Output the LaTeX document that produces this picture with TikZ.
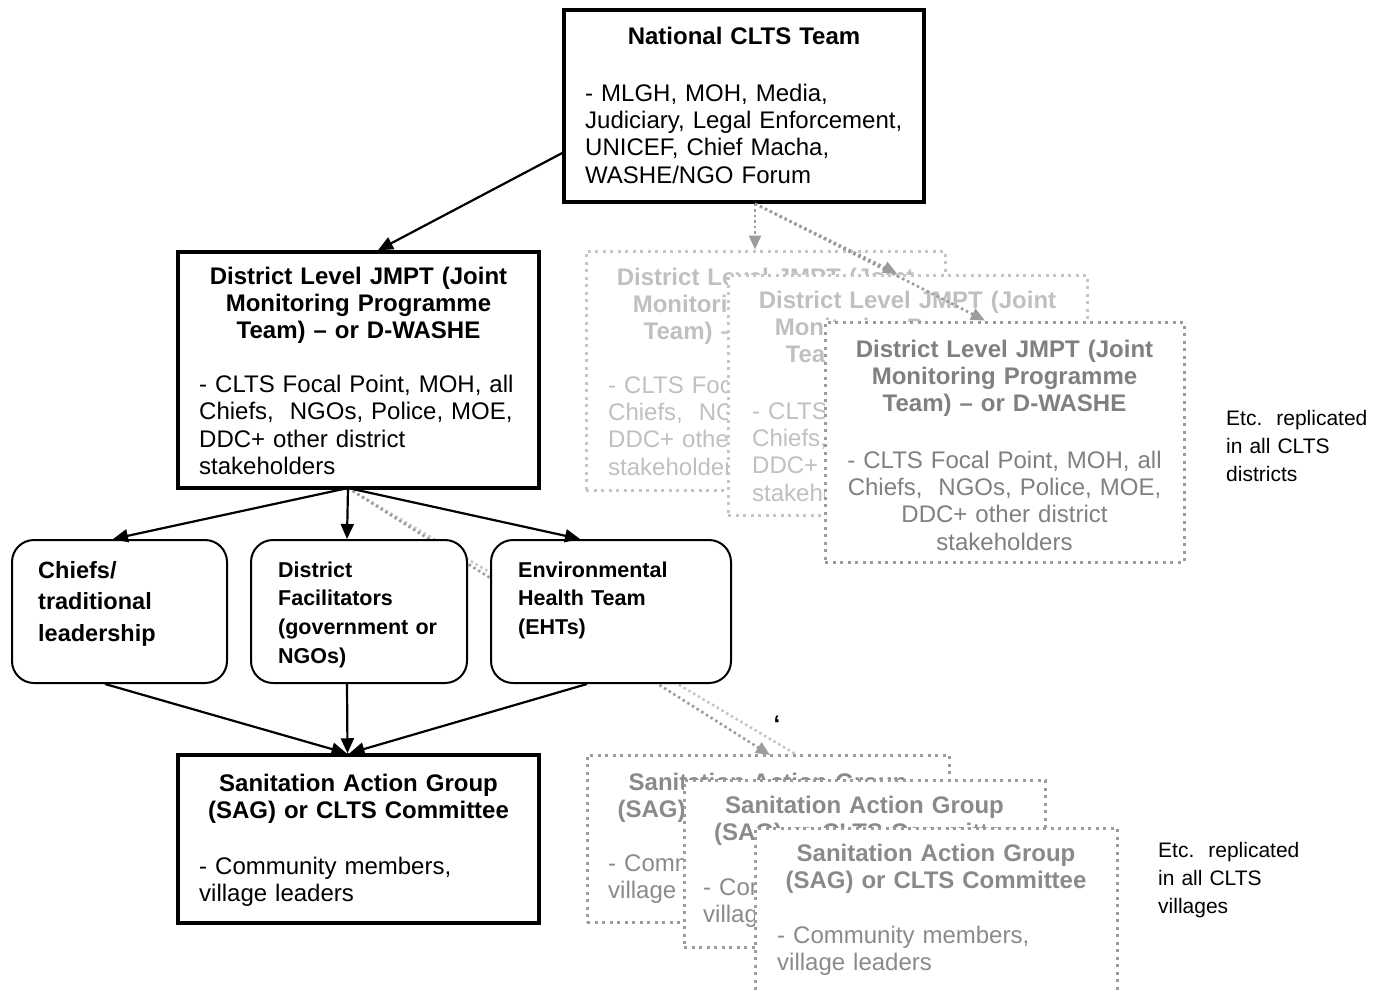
\documentclass[tikz,border=0pt]{standalone}
\usepackage{fontspec}
\setmainfont{Liberation Sans}
\usetikzlibrary{arrows.meta}
\definecolor{lgray}{HTML}{C6C6C6}
\definecolor{ltext}{HTML}{C0C0C0}
\definecolor{mgray}{HTML}{9C9C9C}
\definecolor{dtext}{HTML}{808080}
\definecolor{stext}{HTML}{8A8A8A}
\tikzset{
  mainbox/.style={draw=black, line width=3.5pt, fill=white, inner sep=0pt},
  roundbox/.style={draw=black, line width=2pt, fill=white, inner sep=0pt, rounded corners=22pt},
  dotbox/.style={draw=#1, line width=3pt, dash pattern=on 3pt off 4.5pt, fill=white, inner sep=0pt},
  mfont/.style={font=\fontsize{24}{27.4}\selectfont},
  ttl/.style={mfont, font=\fontsize{24}{27.4}\selectfont\bfseries, text width=361pt, align=center, inner sep=0pt, anchor=base},
  bod/.style={font=\fontsize{24}{27.4}\selectfont, text width=400pt, align=left, inner sep=0pt, anchor=base west},
  bodc/.style={font=\fontsize{24}{27.4}\selectfont, text width=361pt, align=center, inner sep=0pt, anchor=base},
  small/.style={font=\fontsize{21}{28}\selectfont, text width=200pt, align=left, inner sep=0pt, anchor=base west},
  arr/.style={draw=black, line width=2.2pt, -{Triangle[length=15pt,width=13pt]}},
  darr/.style={draw=#1, line width=2.6pt, dash pattern=on 2.5pt off 3pt, -{Triangle[length=14pt,width=12pt]}},
  dline/.style={draw=#1, line width=2.6pt, dash pattern=on 2.5pt off 3pt},
}
\begin{document}
\begin{tikzpicture}[x=1pt, y=-1pt]
\useasboundingbox (0,0) rectangle (1373,993);

% main nodes (boxes)
\node[mainbox, minimum width=360pt, minimum height=192pt] (nat) at (744,106) {};
\node[mainbox, minimum width=361pt, minimum height=236pt] (jmpt) at (358.5,370) {};
\coordinate (jout) at (348,488);

% dotted connectors from JMPT towards the village stack (beneath boxes)
\draw[dline=lgray] (jout) -- (797,755) coordinate (hid);
\draw[darr=mgray] (jout) -- (770,755) coordinate (s1top);

\node[roundbox, minimum width=215pt, minimum height=143pt] (chiefs) at (119.5,611.5) {};
\node[roundbox, minimum width=216pt, minimum height=143pt] (fac) at (359,611.5) {};
\node[roundbox, minimum width=240pt, minimum height=143pt] (eht) at (611,611.5) {};
\node[mainbox, minimum width=361pt, minimum height=168pt] (sag) at (358.5,839) {};

% texts of main nodes
\node[ttl, text width=360pt] (natT) at (744,44) {National CLTS Team};
\node[bod] (natB) at (585,101) {- MLGH, MOH, Media,\\Judiciary, Legal Enforcement,\\UNICEF, Chief Macha,\\WASHE/NGO Forum};

\node[ttl] (jmptT) at (358.5,284) {District Level JMPT (Joint\\Monitoring Programme\\Team) – or D-WASHE};
\node[bod] (jmptB) at (199,392.5) {- CLTS Focal Point, MOH, all\\Chiefs,\ \ NGOs, Police, MOE,\\DDC+ other district\\stakeholders};

\node[font=\fontsize{23.5}{31.5}\selectfont\bfseries, text width=180pt, align=left, inner sep=0pt, anchor=base west] (chiefsT) at (38,578) {Chiefs/\\traditional\\leadership};
\node[font=\fontsize{21.5}{28.7}\selectfont\bfseries, text width=190pt, align=left, inner sep=0pt, anchor=base west] (facT) at (278,577) {District\\Facilitators\\(government or\\NGOs)};
\node[font=\fontsize{21.5}{28.6}\selectfont\bfseries, text width=200pt, align=left, inner sep=0pt, anchor=base west] (ehtT) at (518,577) {Environmental\\Health Team\\(EHTs)};

\node[ttl] (sagT) at (358.5,791) {Sanitation Action Group\\(SAG) or CLTS Committee};
\node[bod] (sagB) at (199,874) {- Community members,\\village leaders};

% district replicas
\node[dotbox=lgray, minimum width=359pt, minimum height=239pt] (d1) at (765.5,370.5) {};
\node[ttl, text=ltext] (d1T) at (765.5,285) {District Level JMPT (Joint\\Monitoring Programme\\Team) – or D-WASHE};
\node[bod, text=ltext] (d1B) at (608,393) {- CLTS Focal Point, MOH, all\\Chiefs,\ \ NGOs, Police, MOE,\\DDC+ other district\\stakeholders};

\node[dotbox=lgray, minimum width=359pt, minimum height=240pt] (d2) at (907.5,395) {};
\node[ttl, text=ltext] (d2T) at (907.5,308) {District Level JMPT (Joint\\Monitoring Programme\\Team) – or D-WASHE};
\node[bod, text=ltext] (d2B) at (752,419) {- CLTS Focal Point, MOH, all\\Chiefs,\ \ NGOs, Police, MOE,\\DDC+ other district\\stakeholders};

\node[dotbox=mgray, minimum width=359pt, minimum height=240pt] (d3) at (1004.5,442) {};
\node[ttl, text=dtext] (d3T) at (1004.5,357) {District Level JMPT (Joint\\Monitoring Programme\\Team) – or D-WASHE};
\node[bodc, text=dtext] (d3B) at (1004.5,468) {- CLTS Focal Point, MOH, all\\Chiefs,\ \ NGOs, Police, MOE,\\DDC+ other district\\stakeholders};

% village replicas
\node[dotbox=mgray, minimum width=362pt, minimum height=167pt] (s1) at (768,838.5) {};
\node[ttl, text=stext] (s1T) at (768,790) {Sanitation Action Group\\(SAG) or CLTS Committee};
\node[bod, text=stext] (s1B) at (608,871) {- Community members,\\village leaders};

\node[dotbox=mgray, minimum width=361pt, minimum height=167pt] (s2) at (864.5,863.5) {};
\node[ttl, text=stext] (s2T) at (864.5,813) {Sanitation Action Group\\(SAG) or CLTS Committee};
\node[bod, text=stext] (s2B) at (703,895) {- Community members,\\village leaders};

\node[dotbox=mgray, minimum width=362pt, minimum height=167pt] (s3) at (936,911.5) {};
\node[ttl, text=stext] (s3T) at (936,861) {Sanitation Action Group\\(SAG) or CLTS Committee};
\node[bod, text=stext] (s3B) at (777,943) {- Community members,\\village leaders};

% side notes
\node[small] (etc1) at (1226,425) {Etc.\ \ replicated\\in all CLTS\\districts};
\node[small] (etc2) at (1158,857) {Etc.\ \ replicated\\in all CLTS\\villages};
\node[font=\fontsize{24}{27}\selectfont\bfseries, inner sep=0pt, anchor=base] (quote) at (777,732) {‘};

% dotted arrows from national team to district replicas
\coordinate (nout) at ([xshift=11pt]nat.south);
\draw[darr=mgray] (nout) -- ([xshift=-10.5pt]d1.north);
\draw[darr=mgray] (nout) -- ([xshift=-10.5pt]d2.north);
\draw[darr=mgray] (nout) -- ([xshift=-19.5pt]d3.north);

% black arrows
\draw[arr] ([yshift=-47pt]nat.west) -- ([xshift=19.5pt]jmpt.north);
\draw[arr] (jout) -- ([xshift=-6.5pt]chiefs.north);
\draw[arr] (jout) -- ([xshift=-12pt]fac.north);
\draw[arr] (jout) -- ([xshift=-31pt]eht.north);
\draw[arr] ([xshift=-14.5pt]chiefs.south) -- ([xshift=-12pt]sag.north);
\draw[arr] ([xshift=-12pt]fac.south) -- ([xshift=-11pt]sag.north);
\draw[arr] ([xshift=-24pt]eht.south) -- ([xshift=-9pt]sag.north);
\end{tikzpicture}
\end{document}
